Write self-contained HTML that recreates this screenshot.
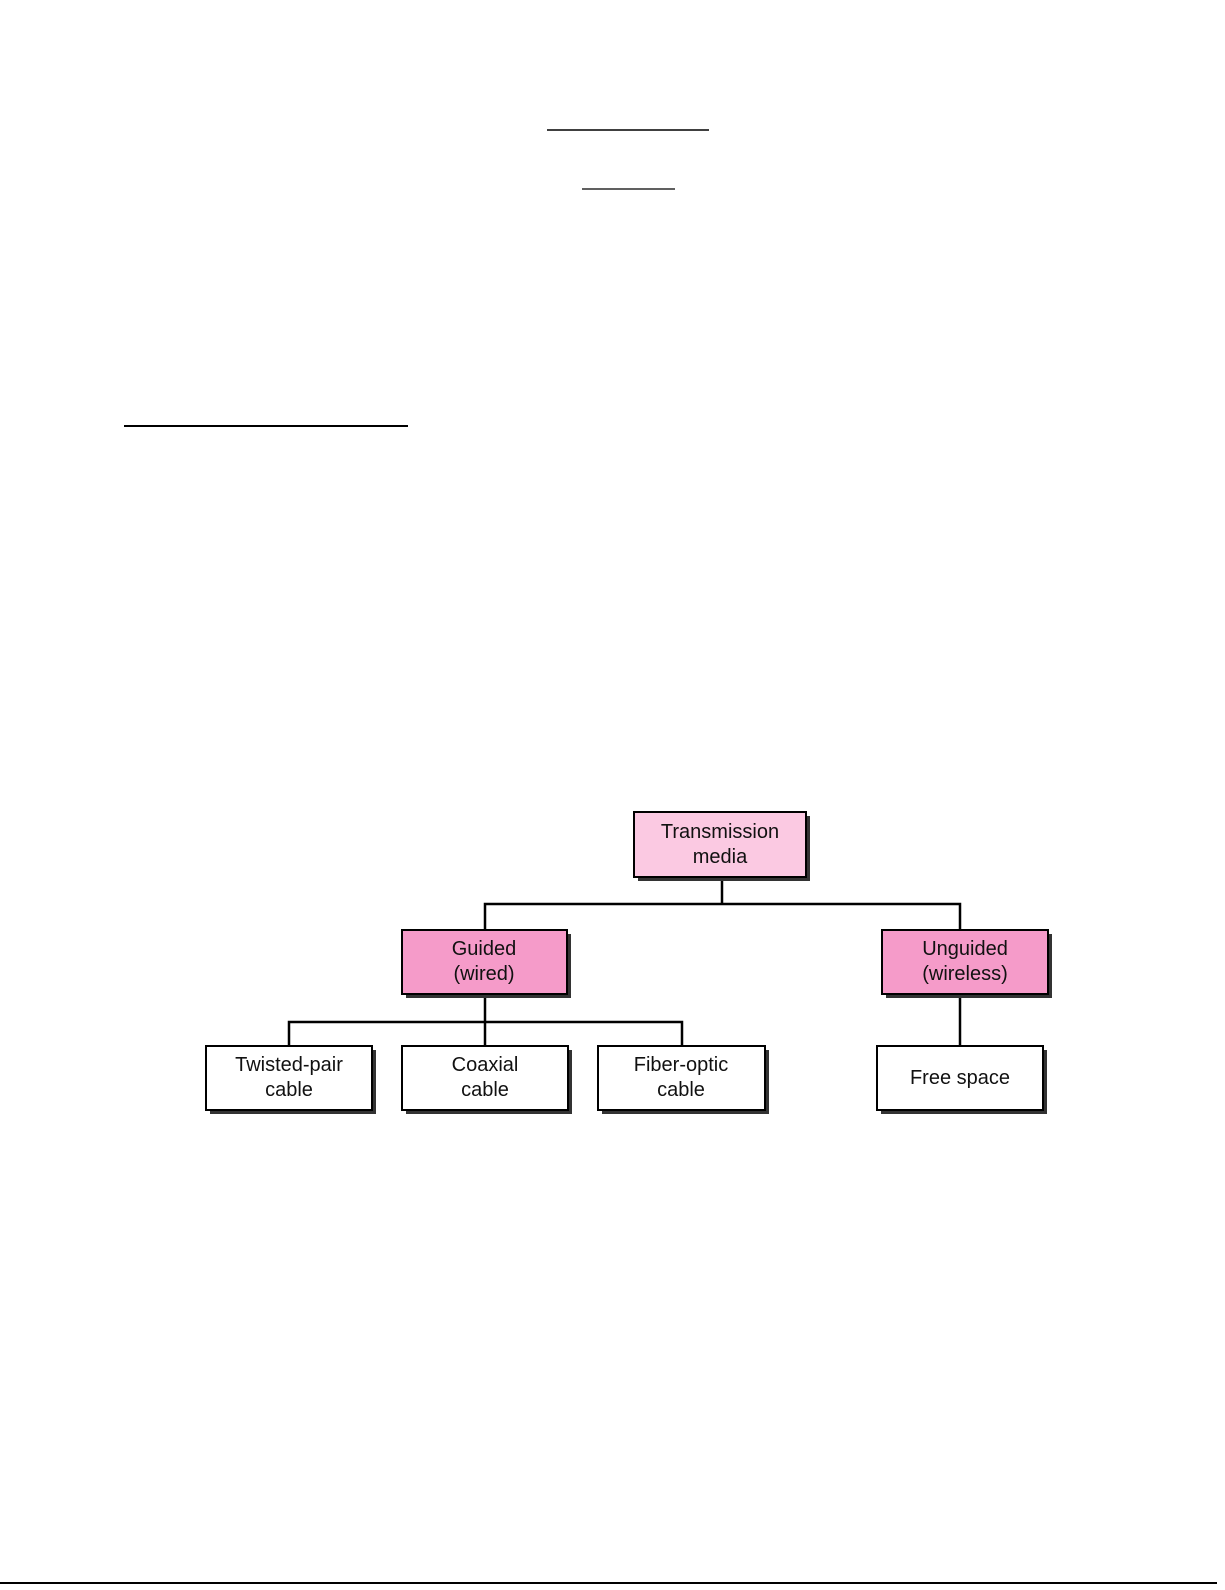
<!DOCTYPE html>
<html><head><style>
body{margin:0;background:#fff;width:1225px;height:1585px;overflow:hidden}
svg text{font-family:"Liberation Sans",sans-serif;font-size:20px;fill:#111;text-anchor:middle}
</style></head><body>
<svg width="1225" height="1585" xmlns="http://www.w3.org/2000/svg">
<line x1="547" y1="130" x2="709" y2="130" stroke="#000" stroke-width="1.5"/>
<line x1="582" y1="189" x2="675" y2="189" stroke="#000" stroke-width="1.2"/>
<line x1="124" y1="426" x2="408" y2="426" stroke="#000" stroke-width="2"/>
<line x1="0" y1="1583" x2="1217" y2="1583" stroke="#000" stroke-width="2"/>
<g stroke="#000" stroke-width="2.5" fill="none">
<line x1="722" y1="877" x2="722" y2="904"/>
<polyline points="485,930 485,904 960,904 960,930"/>
<line x1="485" y1="994" x2="485" y2="1046"/>
<polyline points="289,1046 289,1022 682,1022 682,1046"/>
<line x1="960" y1="994" x2="960" y2="1046"/>
</g>
<g stroke="#000" stroke-width="2">
<rect x="638" y="816" width="172" height="65" fill="#333" stroke="none"/>
<rect x="634" y="812" width="172" height="65" fill="#fbc9e2"/>
<rect x="406" y="934" width="165" height="64" fill="#333" stroke="none"/>
<rect x="402" y="930" width="165" height="64" fill="#f59bc9"/>
<rect x="886" y="934" width="166" height="64" fill="#333" stroke="none"/>
<rect x="882" y="930" width="166" height="64" fill="#f59bc9"/>
<rect x="210" y="1050" width="166" height="64" fill="#333" stroke="none"/>
<rect x="206" y="1046" width="166" height="64" fill="#fff"/>
<rect x="406" y="1050" width="166" height="64" fill="#333" stroke="none"/>
<rect x="402" y="1046" width="166" height="64" fill="#fff"/>
<rect x="602" y="1050" width="167" height="64" fill="#333" stroke="none"/>
<rect x="598" y="1046" width="167" height="64" fill="#fff"/>
<rect x="881" y="1050" width="166" height="64" fill="#333" stroke="none"/>
<rect x="877" y="1046" width="166" height="64" fill="#fff"/>
</g>
<text x="720" y="838">Transmission</text><text x="720" y="863">media</text>
<text x="484" y="955">Guided</text><text x="484" y="980">(wired)</text>
<text x="965" y="955">Unguided</text><text x="965" y="980">(wireless)</text>
<text x="289" y="1071">Twisted-pair</text><text x="289" y="1096">cable</text>
<text x="485" y="1071">Coaxial</text><text x="485" y="1096">cable</text>
<text x="681" y="1071">Fiber-optic</text><text x="681" y="1096">cable</text>
<text x="960" y="1084">Free space</text>
</svg>
</body></html>
